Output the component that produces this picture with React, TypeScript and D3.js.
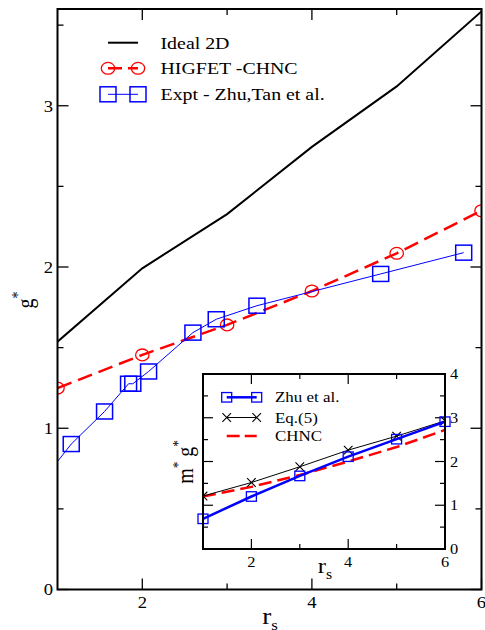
import React from 'react';
import * as d3 from 'd3';

const SX = 1.13;
const FONT = '"Liberation Serif", "Times New Roman", Times, serif';

// ---------- main panel data ----------
const rsGrid = [1, 2, 3, 4, 5, 6];
const ideal2D = [1.537, 1.992, 2.328, 2.745, 3.12, 3.585];
const higfetChnc = [1.249, 1.455, 1.641, 1.851, 2.085, 2.349];
const exptRs = [0.9, 1.162, 1.555, 1.838, 1.888, 2.074, 2.597, 2.872, 3.352, 4.811, 5.79];
const exptG = [0.727, 0.902, 1.104, 1.276, 1.276, 1.352, 1.593, 1.676, 1.76, 1.957, 2.089];

const mainXMajor = [2, 4, 6];
const mainXMinor = [3, 5];
const mainYMajor = [0, 1, 2, 3];
const mainYMinor = [0.5, 1.5, 2.5, 3.5];

const legendMain = ['Ideal 2D', 'HIGFET -CHNC', 'Expt - Zhu,Tan et al.'];

// ---------- inset data ----------
const insetRs = [1, 2, 3, 4, 5, 6];
const zhu = [0.69, 1.2, 1.67, 2.11, 2.51, 2.91];
const eq5 = [1.21, 1.52, 1.88, 2.26, 2.58, 2.93];
const chnc = [1.2, 1.42, 1.69, 2.0, 2.33, 2.72];

const insetXMajor = [2, 4, 6];
const insetXMinor = [3, 5];
const insetYMajor = [0, 1, 2, 3, 4];
const insetYMinor = [0.5, 1.5, 2.5, 3.5];

const legendInset = ['Zhu et al.', 'Eq.(5)', 'CHNC'];

const BLUE = '#0000ff';
const RED = '#ff0000';

type TP = {
  x: number; y: number; size: number; anchor?: string; rotate?: number; dy?: string;
  children?: React.ReactNode;
};
function T({ x, y, size, anchor = 'start', rotate = 0, dy, children }: TP) {
  return (
    <text
      transform={`translate(${x},${y}) scale(${SX},1)${rotate ? ` rotate(${rotate})` : ''}`}
      fontSize={size}
      fontFamily={FONT}
      textAnchor={anchor as any}
      dy={dy}
      fill="#000"
    >
      {children}
    </text>
  );
}

function Square({ cx, cy, w, h, sw }: { cx: number; cy: number; w: number; h: number; sw: number }) {
  return <rect x={cx - w / 2} y={cy - h / 2} width={w} height={h} fill="none" stroke={BLUE} strokeWidth={sw} />;
}

function Cross({ cx, cy, s }: { cx: number; cy: number; s: number }) {
  return (
    <path
      d={`M${cx - s},${cy - s}L${cx + s},${cy + s}M${cx - s},${cy + s}L${cx + s},${cy - s}`}
      stroke="#000"
      strokeWidth={1.1}
      fill="none"
    />
  );
}

export default function App() {
  // main scales
  const L = 57.5, R = 481.5, TOP = 9, B = 589.5;
  const x = d3.scaleLinear().domain([1, 6]).range([L, R]);
  const y = d3.scaleLinear().domain([0, 3.6]).range([B, TOP]);

  // inset scales
  const iL = 203, iR = 445, iT = 374, iB = 549;
  const xi = d3.scaleLinear().domain([1, 6]).range([iL, iR]);
  const yi = d3.scaleLinear().domain([0, 4]).range([iB, iT]);

  const line = d3.line<[number, number]>().x((d) => x(d[0])).y((d) => y(d[1]));
  const lineI = d3.line<[number, number]>().x((d) => xi(d[0])).y((d) => yi(d[1]));

  const idealPts = rsGrid.map((r, i) => [r, ideal2D[i]] as [number, number]);
  const higPts = rsGrid.map((r, i) => [r, higfetChnc[i]] as [number, number]);
  const exptPts = exptRs.map((r, i) => [r, exptG[i]] as [number, number]);

  const zhuPts = insetRs.map((r, i) => [r, zhu[i]] as [number, number]);
  const eqPts = insetRs.map((r, i) => [r, eq5[i]] as [number, number]);
  const chPts = insetRs.map((r, i) => [r, chnc[i]] as [number, number]);

  const majT = 11, minT = 6;
  const imajT = 10, iminT = 5;

  // legend geometry
  const lgX1 = 108, lgX2 = 138, lgTx = 160.5;
  const lgRows = [42.7, 68.3, 94.3];
  const ilX1 = 226.7, ilX2 = 256.7, ilTx = 275;
  const ilRows = [397.3, 417.5, 436];

  return (
    <svg
      width={485}
      height={630}
      style={{ position: 'absolute', left: 0, top: 0, background: '#fff' }}
    >
      <defs>
        <clipPath id="mainClip">
          <rect x={L} y={TOP} width={R - L} height={B - TOP} />
        </clipPath>
        <clipPath id="insetClip">
          <rect x={iL} y={iT} width={iR - iL} height={iB - iT} />
        </clipPath>
      </defs>
      <rect x={0} y={0} width={485} height={630} fill="#fff" />

      {/* main ticks */}
      <g stroke="#000" strokeWidth={1.3}>
        {mainXMajor.map((v) => (
          <g key={'xM' + v}>
            <line x1={x(v)} x2={x(v)} y1={B} y2={B - majT} />
            <line x1={x(v)} x2={x(v)} y1={TOP} y2={TOP + majT} />
          </g>
        ))}
        {mainXMinor.map((v) => (
          <g key={'xm' + v}>
            <line x1={x(v)} x2={x(v)} y1={B} y2={B - minT} />
            <line x1={x(v)} x2={x(v)} y1={TOP} y2={TOP + minT} />
          </g>
        ))}
        {mainYMajor.map((v) => (
          <g key={'yM' + v}>
            <line x1={L} x2={L + majT} y1={y(v)} y2={y(v)} />
            <line x1={R} x2={R - majT} y1={y(v)} y2={y(v)} />
          </g>
        ))}
        {mainYMinor.map((v) => (
          <g key={'ym' + v}>
            <line x1={L} x2={L + minT} y1={y(v)} y2={y(v)} />
            <line x1={R} x2={R - minT} y1={y(v)} y2={y(v)} />
          </g>
        ))}
      </g>

      {/* main tick labels */}
      {mainYMajor.map((v) => (
        <T key={'yl' + v} x={53} y={y(v)} size={16.5} anchor="end" dy="0.35em">{String(v)}</T>
      ))}
      {mainXMajor.map((v) => (
        <T key={'xl' + v} x={x(v)} y={608} size={16.5} anchor="middle">{String(v)}</T>
      ))}

      {/* main axis titles */}
      <T x={270} y={624} size={24} anchor="middle">
        r<tspan dy={6} fontSize={15}>s</tspan>
      </T>
      <T x={33} y={300} size={20} anchor="middle" rotate={-90}>
        g<tspan dy={-9} fontSize={14}>*</tspan>
      </T>

      {/* main series */}
      <g clipPath="url(#mainClip)">
        <path d={line(idealPts) || ''} fill="none" stroke="#000" strokeWidth={2} />
        <path d={line(higPts) || ''} fill="none" stroke={RED} strokeWidth={2.5} strokeDasharray="15,7" />
        {higPts.map((p, i) => (
          <ellipse key={'c' + i} cx={x(p[0])} cy={y(p[1])} rx={6.7} ry={5.9} fill="none" stroke={RED} strokeWidth={1.3} />
        ))}
        <path d={line(exptPts) || ''} fill="none" stroke={BLUE} strokeWidth={1} />
        {exptPts.map((p, i) => (
          <Square key={'s' + i} cx={x(p[0])} cy={y(p[1])} w={16} h={15} sw={1.5} />
        ))}
      </g>

      {/* main frame */}
      <rect x={L} y={TOP} width={R - L} height={B - TOP} fill="none" stroke="#000" strokeWidth={2} />

      {/* main legend */}
      <line x1={lgX1} x2={lgX2} y1={lgRows[0]} y2={lgRows[0]} stroke="#000" strokeWidth={2} />
      <line x1={lgX1} x2={lgX2} y1={lgRows[1]} y2={lgRows[1]} stroke={RED} strokeWidth={2.5} strokeDasharray="14,6" />
      <ellipse cx={lgX1} cy={lgRows[1]} rx={6.7} ry={5.9} fill="none" stroke={RED} strokeWidth={1.3} />
      <ellipse cx={lgX2} cy={lgRows[1]} rx={6.7} ry={5.9} fill="none" stroke={RED} strokeWidth={1.3} />
      <line x1={lgX1} x2={lgX2} y1={lgRows[2]} y2={lgRows[2]} stroke={BLUE} strokeWidth={1} />
      <Square cx={lgX1} cy={lgRows[2]} w={16} h={15} sw={1.5} />
      <Square cx={lgX2} cy={lgRows[2]} w={16} h={15} sw={1.5} />
      {legendMain.map((s, i) => (
        <T key={'lg' + i} x={lgTx} y={lgRows[i] + 5.8} size={17.6}>{s}</T>
      ))}

      {/* ---------- inset ---------- */}
      <rect x={iL} y={iT} width={iR - iL} height={iB - iT} fill="#fff" />
      <g stroke="#000" strokeWidth={1.2}>
        {insetXMajor.map((v) => (
          <g key={'ixM' + v}>
            <line x1={xi(v)} x2={xi(v)} y1={iB} y2={iB - imajT} />
            <line x1={xi(v)} x2={xi(v)} y1={iT} y2={iT + imajT} />
          </g>
        ))}
        {insetXMinor.map((v) => (
          <g key={'ixm' + v}>
            <line x1={xi(v)} x2={xi(v)} y1={iB} y2={iB - iminT} />
            <line x1={xi(v)} x2={xi(v)} y1={iT} y2={iT + iminT} />
          </g>
        ))}
        {insetYMajor.map((v) => (
          <g key={'iyM' + v}>
            <line x1={iL} x2={iL + imajT} y1={yi(v)} y2={yi(v)} />
            <line x1={iR} x2={iR - imajT} y1={yi(v)} y2={yi(v)} />
          </g>
        ))}
        {insetYMinor.map((v) => (
          <g key={'iym' + v}>
            <line x1={iL} x2={iL + iminT} y1={yi(v)} y2={yi(v)} />
            <line x1={iR} x2={iR - iminT} y1={yi(v)} y2={yi(v)} />
          </g>
        ))}
      </g>

      {insetYMajor.map((v) => (
        <T key={'iyl' + v} x={450} y={yi(v)} size={14.5} dy="0.35em">{String(v)}</T>
      ))}
      {insetXMajor.map((v) => (
        <T key={'ixl' + v} x={xi(v)} y={567} size={14.5} anchor="middle">{String(v)}</T>
      ))}

      <T x={325} y={573} size={22} anchor="middle">
        r<tspan dy={6} fontSize={14}>s</tspan>
      </T>
      <T x={193} y={462} size={20} anchor="middle" rotate={-90}>
        m<tspan dy={-9} fontSize={13}>*</tspan>
        <tspan dy={9}> g</tspan>
        <tspan dy={-9} fontSize={13}>*</tspan>
      </T>

      <g clipPath="url(#insetClip)">
        <path d={lineI(chPts) || ''} fill="none" stroke={RED} strokeWidth={2.5} strokeDasharray="13,6" />
        <path d={lineI(eqPts) || ''} fill="none" stroke="#000" strokeWidth={1} />
        {eqPts.map((p, i) => (
          <Cross key={'x' + i} cx={xi(p[0])} cy={yi(p[1])} s={4.3} />
        ))}
        <path d={lineI(zhuPts) || ''} fill="none" stroke={BLUE} strokeWidth={2.5} />
      </g>
      {zhuPts.map((p, i) => (
        <Square key={'is' + i} cx={xi(p[0])} cy={yi(p[1])} w={10} h={9.5} sw={1.3} />
      ))}

      <rect x={iL} y={iT} width={iR - iL} height={iB - iT} fill="none" stroke="#000" strokeWidth={2} />

      {/* inset legend */}
      <line x1={ilX1} x2={ilX2} y1={ilRows[0]} y2={ilRows[0]} stroke={BLUE} strokeWidth={2.5} />
      <Square cx={ilX1} cy={ilRows[0]} w={10} h={9.5} sw={1.3} />
      <Square cx={ilX2} cy={ilRows[0]} w={10} h={9.5} sw={1.3} />
      <line x1={ilX1} x2={ilX2} y1={ilRows[1]} y2={ilRows[1]} stroke="#000" strokeWidth={1} />
      <Cross cx={ilX1} cy={ilRows[1]} s={4.3} />
      <Cross cx={ilX2} cy={ilRows[1]} s={4.3} />
      <line x1={ilX1} x2={ilX2} y1={ilRows[2]} y2={ilRows[2]} stroke={RED} strokeWidth={2.5} strokeDasharray="13,5" />
      {legendInset.map((s, i) => (
        <T key={'il' + i} x={ilTx} y={ilRows[i] + 5} size={15}>{s}</T>
      ))}
    </svg>
  );
}
